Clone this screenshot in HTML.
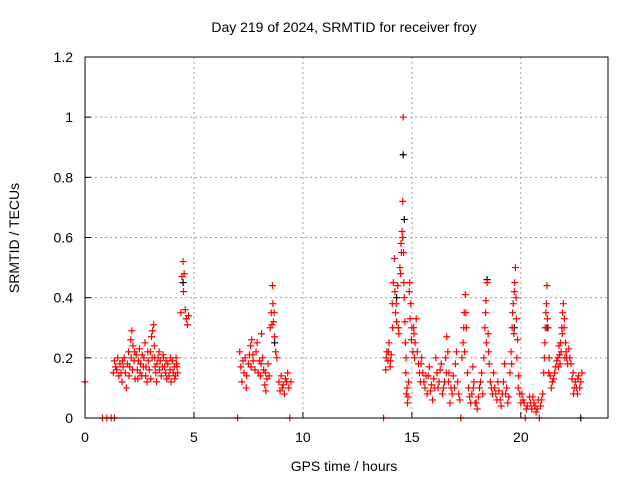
<!DOCTYPE html>
<html><head><meta charset="utf-8"><style>
body{margin:0;background:#fff}
svg{display:block;font-family:"Liberation Sans",sans-serif}
</style></head><body>
<svg id="chart" width="640" height="480">
<text x="344" y="32" font-size="14" text-anchor="middle">Day 219 of 2024, SRMTID for receiver froy</text>
<text x="344" y="471" font-size="14" text-anchor="middle">GPS time / hours</text>
<text transform="translate(19,238) rotate(-90)" font-size="14" text-anchor="middle">SRMTID / TECUs</text>
<g id="grid"></g><g id="ticks"></g><g id="marks"></g>
<rect x="85" y="57" width="523" height="361" fill="none" stroke="#000"/>
</svg>
<script>
const xTicks=[0,5,10,15,20];
const yTicks=[0,0.2,0.4,0.6,0.8,1,1.2];
const redTimes=[0,0.8,1.0,1.2,1.35,1.3,1.35,1.4,1.5,1.55,1.6,1.7,1.75,1.8,1.85,1.9,1.95,2.0,2.05,2.1,2.15,2.2,2.25,2.3,2.35,2.4,2.5,2.55,2.6,2.7,2.75,2.8,2.85,2.9,3.0,3.05,3.1,3.15,3.2,3.25,3.3,3.4,3.45,3.5,3.55,3.6,3.7,3.75,3.8,3.9,3.95,4.0,4.1,4.15,4.2,4.25,4.4,4.45,4.5,4.52,4.55,4.6,4.65,4.7,4.75,7.0,7.1,7.15,7.2,7.3,7.35,7.4,7.5,7.6,7.65,7.7,7.8,7.9,8.0,8.05,8.1,8.2,8.25,8.3,8.35,8.4,8.5,8.55,8.6,8.62,8.65,8.7,8.75,8.8,8.9,8.95,9.0,9.1,9.15,9.2,9.3,9.35,9.4,9.45,13.7,13.8,13.85,13.9,13.95,14.0,14.05,14.1,14.15,14.2,14.25,14.3,14.35,14.4,14.45,14.5,14.55,14.58,14.6,14.62,14.65,14.7,14.72,14.75,14.8,14.85,14.9,14.95,15.0,15.05,15.1,15.15,15.2,15.3,15.4,15.45,15.5,15.6,15.7,15.75,15.8,15.9,15.95,16.0,16.1,16.2,16.3,16.4,16.5,16.55,16.6,16.65,16.7,16.75,16.8,16.9,17.0,17.05,17.1,17.2,17.25,17.3,17.35,17.4,17.45,17.5,17.55,17.6,17.7,17.75,17.8,17.85,17.9,18.0,18.05,18.1,18.2,18.3,18.35,18.4,18.45,18.5,18.55,18.6,18.7,18.75,18.8,18.9,18.95,19.0,19.1,19.2,19.25,19.3,19.4,19.5,19.55,19.6,19.65,19.7,19.75,19.8,19.85,19.9,19.95,20.0,20.1,20.2,20.3,20.4,20.5,20.6,20.7,20.8,20.85,20.9,21.0,21.05,21.1,21.15,21.2,21.25,21.3,21.35,21.4,21.5,21.6,21.7,21.75,21.8,21.85,21.9,21.95,22.0,22.05,22.1,22.2,22.3,22.4,22.45,22.5,22.6,22.65,22.7,22.8];
const redValues=[0.12,0,0,0,0,0.15,0.19,0.17,0.2,0.14,0.18,0.12,0.17,0.2,0.15,0.1,0.18,0.22,0.17,0.26,0.29,0.24,0.19,0.13,0.21,0.16,0.23,0.18,0.14,0.2,0.25,0.17,0.12,0.19,0.22,0.27,0.29,0.31,0.2,0.15,0.18,0.22,0.19,0.14,0.17,0.2,0.15,0.13,0.18,0.16,0.12,0.19,0.17,0.14,0.18,0.15,0.35,0.47,0.52,0.42,0.48,0.36,0.33,0.31,0.34,0,0.22,0.17,0.12,0.15,0.2,0.1,0.18,0.24,0.26,0.21,0.16,0.25,0.19,0.14,0.28,0.16,0.11,0.09,0.13,0.18,0.3,0.35,0.44,0.38,0.32,0.27,0.22,0.2,0.12,0.09,0.14,0.11,0.08,0.13,0.15,0.1,0,0.12,0,0.16,0.22,0.19,0.25,0.17,0.21,0.38,0.45,0.53,0.35,0.32,0.44,0.28,0.5,0.58,0.62,0.72,1.0,0.55,0.4,0.25,0.15,0.08,0.05,0.12,0.45,0.38,0.3,0.22,0.28,0.25,0.33,0.18,0.12,0.2,0.15,0.1,0.08,0.14,0.17,0.11,0.06,0.13,0.2,0.1,0.16,0.08,0.12,0.2,0.27,0.22,0.15,0.05,0.1,0.14,0.18,0.22,0.12,0.06,0,0.2,0.25,0.35,0.41,0.3,0.15,0.1,0.05,0.08,0.17,0.12,0.05,0.03,0.07,0.1,0.15,0.2,0.3,0.39,0.45,0.28,0.18,0.12,0.08,0.15,0.1,0.06,0.12,0.09,0.04,0.12,0.18,0.08,0.05,0.15,0.22,0.3,0.38,0.42,0.5,0.33,0.26,0.14,0.08,0.05,0.06,0,0.04,0.07,0.03,0.05,0.02,0.06,0,0.04,0.08,0.15,0.25,0.35,0.44,0.3,0.2,0.14,0.1,0.13,0.17,0.2,0.24,0.18,0.22,0.28,0.38,0.33,0.25,0.2,0.23,0.18,0.15,0.1,0.12,0.08,0.14,0.1,0.15];
const redTimes2=[1.45,1.65,1.72,2.02,2.12,2.18,2.28,2.42,2.45,2.52,2.62,2.68,2.78,2.88,2.95,3.02,3.08,3.18,3.22,3.28,3.35,3.42,3.58,3.65,3.72,3.85,3.92,4.05,4.12,4.18,4.22,7.25,7.42,7.55,7.62,7.72,7.85,7.95,8.08,8.15,8.28,8.45,8.58,8.68,9.05,9.25,13.82,13.92,14.02,14.12,14.22,14.28,14.38,14.48,14.52,14.57,14.63,14.68,14.73,14.78,14.82,14.88,14.92,14.98,15.08,15.12,15.25,15.35,15.42,15.55,15.65,15.85,16.05,16.15,16.25,16.35,16.45,16.58,16.68,16.85,16.95,17.15,17.38,17.42,17.48,17.65,17.82,17.95,18.15,18.25,18.38,18.42,18.52,18.65,18.85,19.05,19.15,19.35,19.45,19.58,19.62,19.68,19.72,19.78,19.82,19.88,20.05,20.15,20.25,20.45,20.55,20.65,20.75,20.95,21.08,21.12,21.18,21.22,21.28,21.45,21.55,21.65,21.72,21.78,21.82,21.88,21.92,21.98,22.02,22.08,22.15,22.25,22.35,22.42,22.55,22.62,22.75];
const redValues2=[0.16,0.15,0.19,0.14,0.2,0.16,0.22,0.13,0.19,0.15,0.21,0.17,0.14,0.22,0.16,0.13,0.2,0.24,0.17,0.12,0.2,0.16,0.21,0.17,0.19,0.14,0.2,0.15,0.13,0.2,0.17,0.19,0.14,0.21,0.17,0.19,0.22,0.15,0.18,0.2,0.15,0.14,0.31,0.35,0.1,0.12,0.2,0.22,0.19,0.3,0.42,0.38,0.3,0.48,0.55,0.6,0.45,0.32,0.2,0.1,0.07,0.42,0.33,0.26,0.3,0.2,0.22,0.15,0.18,0.12,0.14,0.09,0.1,0.15,0.12,0.18,0.1,0.15,0.12,0.08,0.1,0.08,0.3,0.22,0.35,0.07,0.1,0.05,0.12,0.08,0.35,0.25,0.22,0.1,0.08,0.06,0.08,0.1,0.07,0.18,0.35,0.28,0.45,0.4,0.2,0.1,0.08,0.05,0.03,0.05,0.07,0.04,0.03,0.06,0.2,0.3,0.38,0.33,0.15,0.12,0.15,0.19,0.17,0.21,0.25,0.3,0.35,0.3,0.2,0.22,0.18,0.2,0.13,0.08,0.1,0.13,0.12];
const blackTimes=[14.6,14.65,14.3,18.45,21.2,19.7,8.7,22.75,4.5];
const blackValues=[0.875,0.66,0.4,0.46,0.3,0.3,0.25,0,0.45];
const NS='http://www.w3.org/2000/svg';
const X0=85,X1=608,Y0=418,Y1=57,XMAX=24,YMAX=1.2;
function sx(t){return X0+t/XMAX*(X1-X0);}
function sy(v){return Y0-v/YMAX*(Y0-Y1);}
const grid=document.getElementById('grid'),ticks=document.getElementById('ticks'),marks=document.getElementById('marks');
function mk(tag,attrs,parent){const e=document.createElementNS(NS,tag);for(const k in attrs)e.setAttribute(k,attrs[k]);parent.appendChild(e);return e;}
xTicks.forEach(t=>{
  const x=sx(t);
  if(t>0){const g=mk('line',{x1:x,x2:x,y1:Y1,y2:Y0,stroke:'#a0a0a0','stroke-dasharray':'2,3'},grid);
  
  }
  const l=mk('text',{x:x,y:Y0+24,'font-size':14,'text-anchor':'middle'},ticks);l.textContent=t;
  
  
  mk('line',{x1:x,x2:x,y1:Y0,y2:Y0-6,stroke:'#000'},ticks);
});
yTicks.forEach(v=>{
  const y=sy(v);
  if(v>0&&v<1.2){const g=mk('line',{x1:X0,x2:X1,y1:y,y2:y,stroke:'#a0a0a0','stroke-dasharray':'2,3'},grid);
  
  }
  const l=mk('text',{x:X0-12,y:y+5,'font-size':14,'text-anchor':'end'},ticks);l.textContent=v;
  
  
  mk('line',{x1:X0,x2:X0+6,y1:y,y2:y,stroke:'#000'},ticks);
});
function cross(t,v,color,name){
  const x=sx(t),y=sy(v);
  const p=mk('path',{d:`M${x-3.5},${y}H${x+3.5}M${x},${y-3.5}V${y+3.5}`,stroke:color,'stroke-width':1.2,fill:'none'},marks);
  
  
}
blackTimes.forEach((t,i)=>cross(t,blackValues[i],'#000','black-point'));
redTimes.forEach((t,i)=>cross(t,redValues[i],'#f00','red-point'));
redTimes2.forEach((t,i)=>cross(t,redValues2[i],'#f00','red-point'));
</script>
</body></html>
